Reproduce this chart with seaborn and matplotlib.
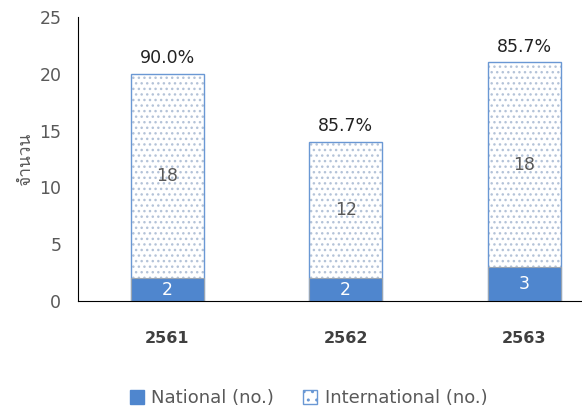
import matplotlib
matplotlib.use("Agg")
import matplotlib.pyplot as plt
import matplotlib.patches as mpatches
from matplotlib import font_manager
from matplotlib.ft2font import FT2Font
import seaborn as sns
import pandas as pd

years = ["2561", "2562", "2563"]
national = [2, 2, 3]
international = [18, 12, 18]
pct_labels = ["90.0%", "85.7%", "85.7%"]

sns.set_style("white")

# look for an installed family with Thai glyphs for the y label
thai_family = None
for f in font_manager.fontManager.ttflist:
    try:
        if 0x0E08 in FT2Font(f.fname).get_charmap():
            thai_family = f.name
            break
    except Exception:
        pass

families = ['DejaVu Sans']
if thai_family:
    families.append(thai_family)
plt.rcParams['font.family'] = families

df = pd.DataFrame({"year": years, "national": national, "international": international})
df["total"] = df["national"] + df["international"]

fig = plt.figure(figsize=(5.82, 4.15), dpi=100)
ax = fig.add_axes([0.134, 0.275, 0.92, 0.684])

blue = "#4F86CE"
plt.rcParams['hatch.color'] = "#B4C3D8"
plt.rcParams['hatch.linewidth'] = 1.0

# top part (international), drawn as full total height with dot hatch
sns.barplot(data=df, x="year", y="total", ax=ax, color="white", width=0.41,
            hatch="...", edgecolor="#B4C3D8", linewidth=0, saturation=1)
# border of stacked part
sns.barplot(data=df, x="year", y="total", ax=ax, fill=False, width=0.41,
            edgecolor="#6A98D4", linewidth=1.0, saturation=1)
# bottom part (national)
sns.barplot(data=df, x="year", y="national", ax=ax, color=blue, width=0.41,
            edgecolor="#9AA5B1", linewidth=0.8, saturation=1)

for i, row in df.iterrows():
    ax.text(i, row["national"] / 2, str(row["national"]), ha="center", va="center",
            color="white", fontsize=12.5)
    ax.text(i, row["national"] + row["international"] / 2, str(row["international"]),
            ha="center", va="center", color="#595959", fontsize=12.5)
    ax.text(i, row["total"] + 0.6, pct_labels[i], ha="center", va="bottom",
            color="#222222", fontsize=12.5)

ax.set_ylim(0, 25)
ax.set_xlim(-0.5, 2.5)
ax.set_yticks(range(0, 26, 5))
ax.tick_params(axis="y", labelsize=12.5, labelcolor="#595959", length=0, pad=12)
ax.tick_params(axis="x", labelsize=11.5, labelcolor="#404040", length=0, pad=22)
for lab in ax.get_xticklabels():
    lab.set_fontweight("bold")
ax.set_xlabel("")
ax.set_ylabel("จำนวน", fontsize=12.5, color="#595959", labelpad=4)
sns.despine(ax=ax, top=True, right=True)
ax.spines["left"].set_color("black")
ax.spines["bottom"].set_color("black")

handles = [mpatches.Patch(facecolor=blue, edgecolor=blue, label="National (no.)"),
           mpatches.Patch(facecolor="white", edgecolor="#6A98D4", hatch="..",
                          label="International (no.)")]
fig.legend(handles=handles, loc="lower center", bbox_to_anchor=(0.53, -0.02), ncol=2,
           frameon=False, fontsize=13, labelcolor="#595959", handlelength=0.8,
           handleheight=0.8, columnspacing=1.6, handletextpad=0.4)

fig.savefig("out.png", dpi=100)
